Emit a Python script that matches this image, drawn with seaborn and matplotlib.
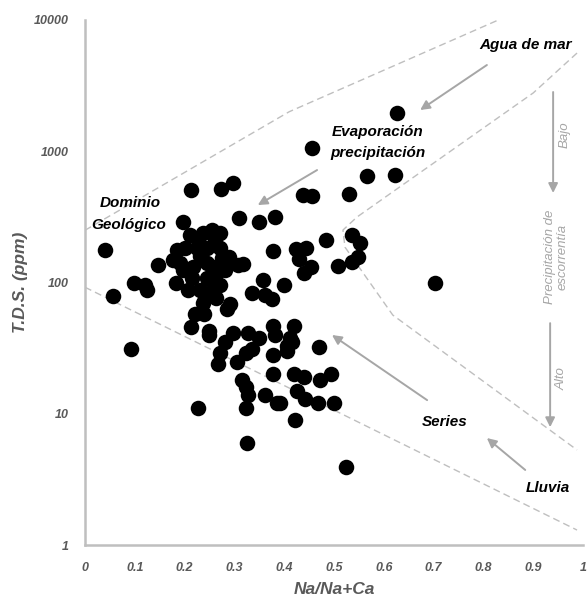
import matplotlib
matplotlib.use("Agg")
import matplotlib.pyplot as plt
from matplotlib.ticker import NullLocator
import seaborn as sns
import pandas as pd

# ---- data ----
na_ratio = [
    0.627, 0.456, 0.566, 0.622, 0.530, 0.438, 0.456, 0.703, 0.536, 0.552,
    0.484, 0.548, 0.536, 0.508, 0.424, 0.444, 0.430, 0.454, 0.440, 0.378,
    0.289, 0.307, 0.317, 0.357, 0.400, 0.335, 0.361, 0.376, 0.309, 0.349,
    0.382, 0.213, 0.273, 0.297, 0.197, 0.040, 0.147, 0.098, 0.120, 0.056,
    0.211, 0.237, 0.255, 0.271, 0.227, 0.261, 0.185, 0.201, 0.225, 0.245,
    0.271, 0.177, 0.191, 0.217, 0.245, 0.257, 0.275, 0.183, 0.215, 0.245,
    0.261, 0.207, 0.231, 0.257, 0.271, 0.197, 0.231, 0.281,
    0.124, 0.263, 0.291, 0.285, 0.237, 0.241, 0.221, 0.239, 0.213, 0.249,
    0.249, 0.281, 0.271, 0.267, 0.297, 0.327, 0.349, 0.378, 0.382, 0.420,
    0.412, 0.406, 0.416, 0.406, 0.323, 0.335, 0.378, 0.470, 0.305, 0.092,
    0.378, 0.420, 0.440, 0.472, 0.494, 0.315, 0.323, 0.327, 0.426, 0.442,
    0.361, 0.386, 0.392, 0.468, 0.500, 0.323, 0.422, 0.325, 0.226, 0.524,
]
tds = [
    1955, 1059, 648, 659, 472, 464, 456, 99, 230, 200,
    211, 156, 143, 134, 180, 183, 151, 131, 118, 174,
    156, 136, 138, 104, 96, 83, 80, 75, 310, 289,
    316, 507, 515, 573, 289, 177, 136, 99, 96, 79,
    230, 238, 251, 238, 211, 211, 177, 183, 183, 183,
    183, 148, 141, 131, 141, 131, 154, 99, 108, 108,
    110, 88, 88, 88, 96, 124, 159, 124,
    88, 76, 69, 63, 70, 76, 58, 58, 46, 43,
    40, 35, 29, 24, 41, 41, 38, 47, 40, 47,
    38, 33, 35, 30, 29, 31, 28, 32, 25, 31,
    20, 20, 19, 18, 20, 18, 16, 14, 15, 13,
    14, 12, 12, 12, 12, 11, 9, 6, 11, 3.9,
]

# Gibbs boundary curves
upper_x = [0.0, 0.41, 0.83]
upper_y = [250, 2000, 10000]
inner_x = [0.988, 0.90, 0.546, 0.518, 0.522, 0.592, 0.618, 0.988]
inner_y = [5600, 2780, 315, 251, 186, 78, 56.5, 5.3]
lower_x = [0.0, 0.988]
lower_y = [92, 1.3]

x_ticks = [0, 0.1, 0.2, 0.3, 0.4, 0.5, 0.6, 0.7, 0.8, 0.9, 1.0]
x_tick_labels = ["0", "0.1", "0.2", "0.3", "0.4", "0.5", "0.6", "0.7", "0.8", "0.9", "1"]
y_ticks = [1, 10, 100, 1000, 10000]
y_tick_labels = ["1", "10", "100", "1000", "10000"]

sns.set_style("white")
plt.rcParams['font.family'] = ['Liberation Sans', 'DejaVu Sans']

GRAY_TXT = "#595959"
GRAY_LINE = "#bfbfbf"
GRAY_ARROW = "#a6a6a6"

fig = plt.figure(figsize=(5.87, 5.99), dpi=100)
ax = fig.add_axes([85 / 587, 54 / 599, 498 / 587, 525 / 599])

df = pd.DataFrame({"na": na_ratio, "tds": tds})
sns.scatterplot(data=df, x="na", y="tds", ax=ax, s=125, color="black",
                edgecolor="black", linewidth=0, zorder=3, legend=False)

ax.set_yscale("log")
ax.set_xlim(0, 1)
ax.set_ylim(1, 10000)

dash = dict(color=GRAY_LINE, lw=1.0, dashes=(5, 3), zorder=1)
ax.plot(upper_x, upper_y, **dash)
ax.plot(inner_x, inner_y, **dash)
ax.plot(lower_x, lower_y, **dash)

def arrow(tail, head):
    ax.annotate("", xy=head, xytext=tail,
                arrowprops=dict(arrowstyle="-|>", color=GRAY_ARROW, lw=1.4,
                                mutation_scale=14, shrinkA=0, shrinkB=0),
                zorder=2)

arrow((0.807, 4540), (0.673, 2062))
arrow((0.466, 719), (0.347, 389))
arrow((0.940, 2827), (0.940, 481))
arrow((0.934, 49), (0.934, 7.9))
arrow((0.687, 12.7), (0.496, 39.8))
arrow((0.884, 3.73), (0.807, 6.53))

lab = dict(fontsize=11, fontweight="bold", fontstyle="italic", color="black",
           ha="center", va="center", zorder=4)
ax.text(0.884, 6450, "Agua de mar", **lab)
ax.text(0.588, 1402, "Evaporación", **lab)
ax.text(0.588, 970, "precipitación", **lab)
ax.text(0.090, 403, "Dominio", **lab)
ax.text(0.088, 274, "Geológico", **lab)
ax.text(0.723, 8.65, "Series", **lab)
ax.text(0.930, 2.72, "Lluvia", **lab)

glab = dict(fontsize=9.5, fontstyle="italic", color=GRAY_ARROW, rotation=90,
            ha="center", va="center")
ax.text(0.964, 1330, "Bajo", **glab)
ax.text(0.946, 156, "Precipitación de\nescorrentía", linespacing=1.1, **glab)
ax.text(0.958, 18.7, "Alto", **glab)

ax.set_xticks(x_ticks)
ax.set_xticklabels(x_tick_labels)
ax.set_yticks(y_ticks)
ax.set_yticklabels(y_tick_labels)
ax.yaxis.set_minor_locator(NullLocator())
ax.tick_params(axis="both", length=0, colors=GRAY_TXT, labelsize=9)
ax.tick_params(axis="x", pad=12)
ax.tick_params(axis="y", pad=12)
for t in ax.get_xticklabels() + ax.get_yticklabels():
    t.set_fontweight("bold")
    t.set_fontstyle("italic")

ax.set_xlabel("Na/Na+Ca", fontsize=12.5, fontweight="bold", fontstyle="italic",
              color=GRAY_TXT)
ax.set_ylabel("T.D.S. (ppm)", fontsize=12.5, fontweight="bold", fontstyle="italic",
              color=GRAY_TXT)
ax.xaxis.set_label_coords(0.5, -0.084)
ax.yaxis.set_label_coords(-0.13, 0.5)
ax.xaxis.label.set_va("center")
ax.yaxis.label.set_va("center")

for side in ["top", "right"]:
    ax.spines[side].set_visible(False)
for side in ["left", "bottom"]:
    ax.spines[side].set_color(GRAY_LINE)
    ax.spines[side].set_linewidth(1.8)
ax.grid(False)

fig.savefig("out.png", dpi=100)
